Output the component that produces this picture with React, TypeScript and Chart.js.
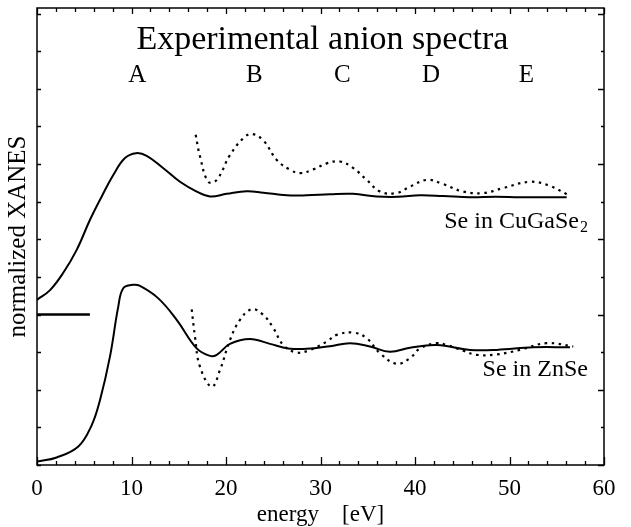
import { useEffect, useRef } from "react";
import { Chart, registerables } from "chart.js";

Chart.register(...registerables);

// ---- Data (energy in eV, normalized XANES in arbitrary offset units) ----
const xTickValues = [0, 10, 20, 30, 40, 50, 60];

const peakLabels = ["A", "B", "C", "D", "E"];
const peakEnergies = [10.6, 23.0, 32.3, 41.7, 51.8];

// Se in CuGaSe2 — experimental (solid)
const cuSolidX = [0, 1.38, 2.78, 4.2, 5.61, 6.85, 8.07, 9.31, 10.48, 11.61, 13.37, 15.13, 16.9, 18.31, 20.07, 22.19, 23.95, 26.42, 28.54, 31.0, 33.44, 35.95, 38.2, 40.53, 43.0, 45.82, 48.5, 51.11, 53.5, 56.05];
const cuSolidY = [4.39, 4.65, 5.11, 5.72, 6.52, 7.14, 7.71, 8.16, 8.29, 8.22, 7.89, 7.53, 7.27, 7.14, 7.21, 7.28, 7.24, 7.17, 7.17, 7.2, 7.21, 7.14, 7.13, 7.17, 7.15, 7.12, 7.13, 7.12, 7.12, 7.12];

// Se in CuGaSe2 — dotted
const cuDotX = [16.79, 17.25, 18.13, 19.02, 20.42, 21.83, 22.72, 23.95, 25.37, 26.77, 27.83, 29.24, 30.66, 32.06, 33.44, 34.89, 36.3, 38.06, 39.47, 41.24, 42.96, 45.08, 47.2, 49.31, 52.17, 54.29, 56.05];
const cuDotY = [8.78, 8.2, 7.53, 7.58, 8.24, 8.69, 8.8, 8.63, 8.11, 7.85, 7.76, 7.86, 8.02, 8.07, 7.9, 7.58, 7.27, 7.23, 7.4, 7.58, 7.47, 7.27, 7.23, 7.36, 7.53, 7.42, 7.2];

// Se in ZnSe — experimental (solid)
const znSolidX = [0, 2.08, 4.37, 5.79, 6.67, 7.72, 8.6, 9.13, 10.19, 10.9, 12.84, 14.78, 16.9, 18.31, 19.02, 20.42, 22.54, 24.66, 26.59, 28.54, 31.0, 33.12, 35.24, 37.35, 39.47, 42.3, 45.82, 48.64, 52.52, 56.4];
const znSolidY = [0.09, 0.2, 0.49, 1.06, 1.73, 2.88, 4.21, 4.7, 4.79, 4.76, 4.43, 3.86, 3.1, 2.9, 2.93, 3.22, 3.35, 3.22, 3.1, 3.09, 3.16, 3.24, 3.15, 3.01, 3.12, 3.19, 3.06, 3.06, 3.13, 3.13];

// Se in ZnSe — dotted
const znDotX = [16.37, 16.72, 17.25, 18.49, 19.37, 20.42, 21.48, 22.72, 23.95, 25.01, 26.06, 27.48, 28.89, 30.66, 31.71, 33.47, 34.89, 36.3, 38.06, 39.47, 40.53, 42.3, 43.35, 45.1, 46.52, 48.64, 51.11, 53.93, 56.75];
const znDotY = [4.14, 3.41, 2.61, 2.08, 2.53, 3.32, 3.86, 4.14, 3.99, 3.64, 3.19, 2.99, 3.06, 3.28, 3.46, 3.52, 3.37, 2.97, 2.69, 2.84, 3.1, 3.24, 3.19, 3.04, 2.93, 2.94, 3.06, 3.24, 3.15];

// Reference baseline marker
const baseX = [0, 5.6];
const baseY = [4, 4];

const chartTitle = "Experimental anion spectra";
const seriesLabelCu = "Se in CuGaSe";
const seriesLabelCuSub = "2";
const seriesLabelZn = "Se in ZnSe";
const xTitle = "energy    [eV]";
const yTitle = "normalized XANES";

const FONT = "'Liberation Serif', 'Times New Roman', serif";

const toPts = (xs: number[], ys: number[]) => xs.map((x, i) => ({ x, y: ys[i] }));

const framePlugin = {
  id: "frameAndText",
  afterDraw(chart: any) {
    const { ctx, chartArea: a } = chart;
    const x = chart.scales.x;
    const y = chart.scales.y;
    ctx.save();
    ctx.strokeStyle = "#000";
    ctx.lineWidth = 1.5;
    ctx.strokeRect(a.left, a.top, a.right - a.left, a.bottom - a.top);
    ctx.lineWidth = 1.3;
    ctx.beginPath();
    for (let v = 0; v <= 60; v += 2) {
      const px = Math.round(x.getPixelForValue(v)) + 0.5;
      const major = v % 10 === 0;
      ctx.moveTo(px, a.bottom);
      ctx.lineTo(px, a.bottom - (major ? 8 : 4));
      ctx.moveTo(px, a.top);
      ctx.lineTo(px, a.top + (major ? 6 : 4));
    }
    for (let v = 0; v <= 12; v++) {
      const py = Math.round(y.getPixelForValue(v)) + 0.5;
      ctx.moveTo(a.left, py);
      ctx.lineTo(a.left + 4, py);
      ctx.moveTo(a.right, py);
      ctx.lineTo(a.right - (v % 2 === 0 ? 6 : 3), py);
    }
    ctx.stroke();

    ctx.fillStyle = "#000";
    ctx.textBaseline = "middle";
    // title
    ctx.font = `34px ${FONT}`;
    ctx.textAlign = "center";
    ctx.fillText(chartTitle, x.getPixelForValue(30.2), y.getPixelForValue(11.3));
    // peak letters
    ctx.font = `25px ${FONT}`;
    peakLabels.forEach((l, i) => {
      ctx.fillText(l, x.getPixelForValue(peakEnergies[i]), y.getPixelForValue(10.37));
    });
    // series labels (right aligned)
    const rightX = x.getPixelForValue(58.3);
    ctx.textAlign = "left";
    ctx.font = `16px ${FONT}`;
    const subW = ctx.measureText(seriesLabelCuSub).width;
    ctx.font = `24px ${FONT}`;
    const mainW = ctx.measureText(seriesLabelCu).width;
    const cuY = y.getPixelForValue(6.46);
    const startX = rightX - subW - mainW - 1;
    ctx.fillText(seriesLabelCu, startX, cuY);
    ctx.font = `16px ${FONT}`;
    ctx.fillText(seriesLabelCuSub, startX + mainW + 1, cuY + 6);
    ctx.font = `24px ${FONT}`;
    ctx.textAlign = "right";
    ctx.fillText(seriesLabelZn, rightX, y.getPixelForValue(2.53));
    ctx.restore();
  },
};

export default function App() {
  const ref = useRef<HTMLCanvasElement>(null);
  useEffect(() => {
    document.body.style.margin = "0";
    if (!ref.current) return;
    const solid = { borderColor: "#000", borderWidth: 2, pointRadius: 0, tension: 0.4, fill: false };
    const dotted = { ...solid, borderWidth: 2.2, borderDash: [2.5, 4.5] };
    const chart = new Chart(ref.current, {
      type: "line",
      data: {
        datasets: [
          { ...solid, data: toPts(cuSolidX, cuSolidY) },
          { ...dotted, data: toPts(cuDotX, cuDotY) },
          { ...solid, data: toPts(znSolidX, znSolidY) },
          { ...dotted, data: toPts(znDotX, znDotY) },
          { ...solid, tension: 0, borderWidth: 2.5, data: toPts(baseX, baseY) },
        ] as any,
      },
      options: {
        animation: false,
        responsive: false,
        layout: { padding: { top: 8, right: 27, left: 0, bottom: 0 } },
        plugins: { legend: { display: false }, tooltip: { enabled: false } },
        scales: {
          x: {
            type: "linear",
            min: 0,
            max: 60,
            afterBuildTicks: (s: any) => {
              s.ticks = xTickValues.map((v) => ({ value: v }));
            },
            afterFit: (s: any) => {
              s.height = 62;
            },
            grid: { display: false, drawTicks: false },
            border: { display: false },
            ticks: { padding: 10, color: "#000", autoSkip: false, maxRotation: 0, font: { family: FONT, size: 23 } },
            title: { display: true, text: xTitle, color: "#000", font: { family: FONT, size: 23, lineHeight: 1 }, padding: { top: 0, bottom: 0.5 } },
          },
          y: {
            type: "linear",
            min: 0,
            max: 12.15,
            afterFit: (s: any) => {
              s.width = 37;
            },
            ticks: { display: false },
            grid: { display: false, drawTicks: false },
            border: { display: false },
            title: { display: true, text: yTitle, color: "#000", font: { family: FONT, size: 25, lineHeight: 1 }, padding: { top: 5.5, bottom: 0 } },
          },
        },
      } as any,
      plugins: [framePlugin],
    });
    return () => chart.destroy();
  }, []);
  return (
    <div style={{ position: "absolute", left: 0, top: 0, width: 631, height: 527, background: "#fff" }}>
      <canvas ref={ref} width={631} height={527} />
    </div>
  );
}
